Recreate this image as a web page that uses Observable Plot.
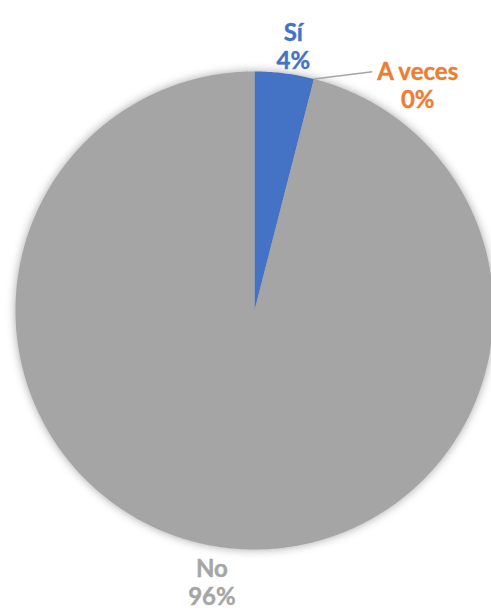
<!DOCTYPE html>
<html><head><meta charset="utf-8">
<script src="https://cdn.jsdelivr.net/npm/d3@7"></script>
<script src="https://cdn.jsdelivr.net/npm/@observablehq/plot@0.6"></script>
<style>body{margin:0;background:#fff}</style>
</head><body><div id="chart"></div>
<script>
const categories = ["Sí", "A veces", "No"];
const values = [4, 0, 96];
const labels = ["4%", "0%", "96%"];
const colors = ["#4472C4", "#ED7D31", "#A5A5A5"];

const W = 491, H = 610, R = 239, CX = 254, CY = 310;
const total = d3.sum(values);
let acc = 0;
const slices = categories.map((c, i) => {
  const a0 = acc / total * 2 * Math.PI;
  acc += values[i];
  const a1 = acc / total * 2 * Math.PI;
  return {c, i, a0, a1};
});
const pts = [];
for (const s of slices) {
  if (s.a1 - s.a0 <= 0) continue;
  pts.push({c: s.c, x: 0, y: 0});
  const n = Math.max(2, Math.ceil((s.a1 - s.a0) / 0.01));
  for (let k = 0; k <= n; k++) {
    const a = s.a0 + (s.a1 - s.a0) * k / n;
    pts.push({c: s.c, x: Math.sin(a), y: Math.cos(a)});
  }
  pts.push({c: s.c, x: 0, y: 0});
}
const lab = slices.map(s => {
  const mid = (s.a0 + s.a1) / 2;
  if (s.a1 - s.a0 <= 0) {
    const a = mid + 0.375, r = 1.165;
    return {c: s.c, text: s.c + "\n" + labels[s.i], x: Math.sin(a) * r, y: Math.cos(a) * r,
            lx1: Math.sin(mid) * 1.0, ly1: Math.cos(mid) * 1.0,
            lx2: Math.sin(a) * r - 0.19, ly2: Math.cos(a) * r + 0.055, leader: true};
  }
  const r = s.i === 0 ? 1.12 : 1.15;
  const a = s.i === 0 ? mid + 0.02 : mid + 0.03;
  return {c: s.c, text: s.c + "\n" + labels[s.i], x: Math.sin(a) * r, y: Math.cos(a) * r, leader: false};
});

const xd = [-CX / R, (W - CX) / R];
const yd = [-(H - CY) / R, CY / R];
const plot = Plot.plot({
  width: W, height: H, margin: 0,
  x: {domain: xd, axis: null},
  y: {domain: yd, axis: null},
  color: {domain: categories, range: colors},
  style: {background: "#fff"},
  marks: [
    Plot.line(pts, {x: "x", y: "y", z: "c", fill: "c", stroke: "none", curve: "linear"}),
    Plot.link(lab.filter(d => d.leader), {x1: "lx1", y1: "ly1", x2: "lx2", y2: "ly2", stroke: "#A5A5A5", strokeWidth: 1.5}),
    Plot.text(lab, {x: "x", y: "y", text: "text", fill: "c", fontSize: 24, fontWeight: "bold",
      fontFamily: "Lato, 'Open Sans', sans-serif", lineHeight: 1.17, stroke: "c", strokeWidth: 0.4})
  ]
});
document.getElementById("chart").appendChild(plot);
const g = plot.querySelector('g[aria-label="line"]');
if (g) g.style.filter = "drop-shadow(0px 0px 5px rgba(0,0,0,0.35))";
</script>
</body></html>
